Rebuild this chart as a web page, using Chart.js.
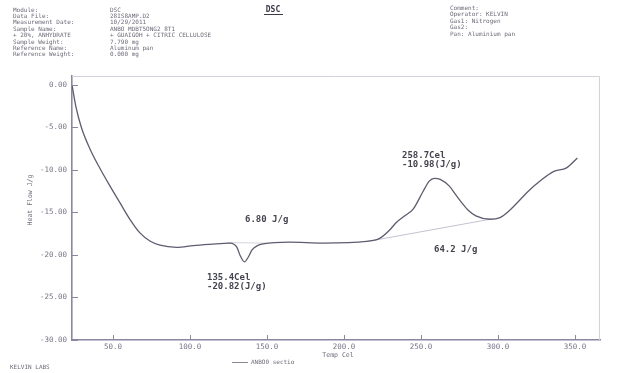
<!DOCTYPE html>
<html>
<head>
<meta charset="utf-8">
<script src="https://cdn.jsdelivr.net/npm/chart.js@4.4.1/dist/chart.umd.min.js"></script>
<style>
  html, body { margin: 0; padding: 0; background: #ffffff; }
  #wrap { width: 618px; height: 373px; position: relative; }
</style>
</head>
<body>
<div id="wrap"><canvas id="dsc" width="618" height="373"></canvas></div>
<script>
// Temperature (Cel) and heat flow (J/g) of the DSC trace
const tempCel = [
  23.4, 26.0, 29.5, 35.0, 41.5, 48.1, 54.5, 61.0, 67.5, 74.0, 80.5, 91.4,
  102.1, 113.0, 126.0, 130.5, 132.4, 135.4, 137.7, 140.3, 143.8, 147.5,
  164.5, 186.4, 214.6, 223.1, 229.5, 233.8, 238.6, 244.9, 251.4, 255.2,
  258.7, 262.5, 268.4, 272.5, 276.9, 281.0, 285.6, 294.8, 301.3, 307.8,
  314.3, 320.8, 327.3, 335.9, 344.5, 351.5
];
const heatFlow = [
  0.00, -2.60, -5.00, -7.50, -9.80, -11.90, -13.85, -15.80, -17.40, -18.35, -18.85, -19.10,
  -18.90, -18.75, -18.60, -19.10, -20.00, -20.82, -20.30, -19.40, -18.90, -18.70,
  -18.50, -18.60, -18.40, -18.05, -17.10, -16.20, -15.50, -14.60, -12.50, -11.35,
  -10.98, -11.10, -11.90, -12.90, -13.95, -14.80, -15.40, -15.80, -15.60, -14.70,
  -13.50, -12.30, -11.30, -10.20, -9.75, -8.60
];

// Integration baselines drawn under the two events
const baseSmallT = [124.0, 150.0];
const baseSmallV = [-18.55, -18.60];
const baseLargeT = [214.6, 294.8];
const baseLargeV = [-18.43, -15.80];

// Axis ticks
const xTicks = [50, 100, 150, 200, 250, 300, 350];
const yTicks = [0, -5, -10, -15, -20, -25, -30];
const xMin = 23.4, xMax = 366.2;
const yMin = -30, yMax = 1.05;

// Peak annotations
const peakLabels = [
  { lines: ["258.7Cel", "-10.98(J/g)"], x: 402, y: 156 },
  { lines: ["135.4Cel", "-20.82(J/g)"], x: 207, y: 278 },
  { lines: ["6.80 J/g"], x: 245, y: 220 },
  { lines: ["64.2 J/g"], x: 434, y: 250 }
];

// Instrument / run information
const headerLeft = [
  ["Module:", "DSC"],
  ["Data File:", "28IS8AMP.D2"],
  ["Measurement Date:", "10/29/2011"],
  ["Sample Name:", "ANBO MDBT5ONG2 8T1"],
  ["+ 20%, ANHYDRATE", "+ GUAIGOH + CITRIC CELLULOSE"],
  ["Sample Weight:", "7.790 mg"],
  ["Reference Name:", "Aluminum pan"],
  ["Reference Weight:", "0.000 mg"]
];
const headerRight = [
  "Comment:",
  "Operator: KELVIN",
  "Gas1: Nitrogen",
  "Gas2:",
  "Pan: Aluminium pan"
];

const pts = (xs, ys) => xs.map((x, i) => ({ x: x, y: ys[i] }));

const MONO = '"DejaVu Sans Mono", "Liberation Mono", monospace';
const AXIS = '#8a86a4';

const decor = {
  id: 'decor',
  afterDraw(chart) {
    const ctx = chart.ctx;
    const a = chart.chartArea;
    const xs = chart.scales.x, ys = chart.scales.y;
    ctx.save();

    // light frame on top and right
    ctx.strokeStyle = '#d3d1de';
    ctx.lineWidth = 1;
    ctx.beginPath();
    ctx.moveTo(a.left, a.top + 0.5);
    ctx.lineTo(a.right - 0.5, a.top + 0.5);
    ctx.lineTo(a.right - 0.5, a.bottom);
    ctx.stroke();

    // inward tick marks
    ctx.strokeStyle = AXIS;
    ctx.lineWidth = 1;
    ctx.beginPath();
    xTicks.forEach(v => {
      const px = Math.round(xs.getPixelForValue(v)) + 0.5;
      ctx.moveTo(px, a.bottom);
      ctx.lineTo(px, a.bottom - 5);
    });
    yTicks.forEach(v => {
      const py = Math.round(ys.getPixelForValue(v)) + 0.5;
      ctx.moveTo(a.left, py);
      ctx.lineTo(a.left + 6, py);
    });
    ctx.stroke();

    // peak annotations
    ctx.fillStyle = '#444450';
    ctx.font = 'bold 9px ' + MONO;
    ctx.textBaseline = 'middle';
    ctx.textAlign = 'left';
    peakLabels.forEach(l => {
      l.lines.forEach((t, i) => ctx.fillText(t, l.x, l.y + i * 9));
    });

    // header block
    ctx.fillStyle = '#6e6c7a';
    ctx.font = '6px ' + MONO;
    headerLeft.forEach((r, i) => {
      const y = 10 + i * 6.4;
      ctx.fillText(r[0], 13, y);
      ctx.fillText(r[1], 110, y);
    });
    headerRight.forEach((t, i) => ctx.fillText(t, 450, 8 + i * 6.6));

    // chart title
    ctx.fillStyle = '#3a3a48';
    ctx.font = 'bold 8px ' + MONO;
    ctx.textAlign = 'center';
    ctx.fillText('DSC', 273, 10);
    ctx.fillRect(264, 14, 19, 1);

    // axis titles
    ctx.fillStyle = '#6e6c7a';
    ctx.font = '6.5px ' + MONO;
    ctx.fillText('Temp Cel', 338, 355);
    ctx.save();
    ctx.translate(30, 200);
    ctx.rotate(-Math.PI / 2);
    ctx.fillText('Heat Flow J/g', 0, 0);
    ctx.restore();

    // legend
    ctx.strokeStyle = '#8a8898';
    ctx.beginPath();
    ctx.moveTo(232, 362.5);
    ctx.lineTo(248, 362.5);
    ctx.stroke();
    ctx.textAlign = 'left';
    ctx.font = '6px ' + MONO;
    ctx.fillText('ANBO0 sectio', 251, 362);

    // footer
    ctx.fillText('KELVIN LABS', 10, 367);
    ctx.restore();
  }
};

new Chart(document.getElementById('dsc'), {
  type: 'line',
  data: {
    datasets: [
      {
        label: 'ANBO0 sectio',
        data: pts(tempCel, heatFlow),
        borderColor: '#5e5c70',
        borderWidth: 1.3,
        pointRadius: 0,
        cubicInterpolationMode: 'monotone',
        fill: false
      },
      {
        label: 'baseline 1',
        data: pts(baseSmallT, baseSmallV),
        borderColor: '#d6d4de',
        borderWidth: 1,
        pointRadius: 0,
        fill: false
      },
      {
        label: 'baseline 2',
        data: pts(baseLargeT, baseLargeV),
        borderColor: '#c4c2cf',
        borderWidth: 1,
        pointRadius: 0,
        fill: false
      }
    ]
  },
  options: {
    responsive: false,
    animation: false,
    layout: { padding: { left: 0, right: 18, top: 76, bottom: 0 } },
    plugins: { legend: { display: false }, tooltip: { enabled: false } },
    scales: {
      x: {
        type: 'linear',
        min: xMin,
        max: xMax,
        afterBuildTicks: s => { s.ticks = xTicks.map(v => ({ value: v })); },
        afterFit: s => { s.height = 33; },
        grid: { display: false, drawTicks: false },
        border: { display: true, color: AXIS, width: 1.6 },
        ticks: {
          padding: 3,
          color: '#77758a',
          font: { family: MONO, size: 7.5 },
          maxRotation: 0,
          callback: v => Number(v).toFixed(1)
        }
      },
      y: {
        type: 'linear',
        min: yMin,
        max: yMax,
        afterBuildTicks: s => { s.ticks = yTicks.map(v => ({ value: v })); },
        afterFit: s => { s.width = 72; },
        grid: { display: false, drawTicks: false },
        border: { display: true, color: AXIS, width: 1.6 },
        ticks: {
          padding: 5,
          color: '#77758a',
          font: { family: MONO, size: 7.5 },
          callback: v => Number(v).toFixed(2)
        }
      }
    }
  },
  plugins: [decor]
});
</script>
</body>
</html>
